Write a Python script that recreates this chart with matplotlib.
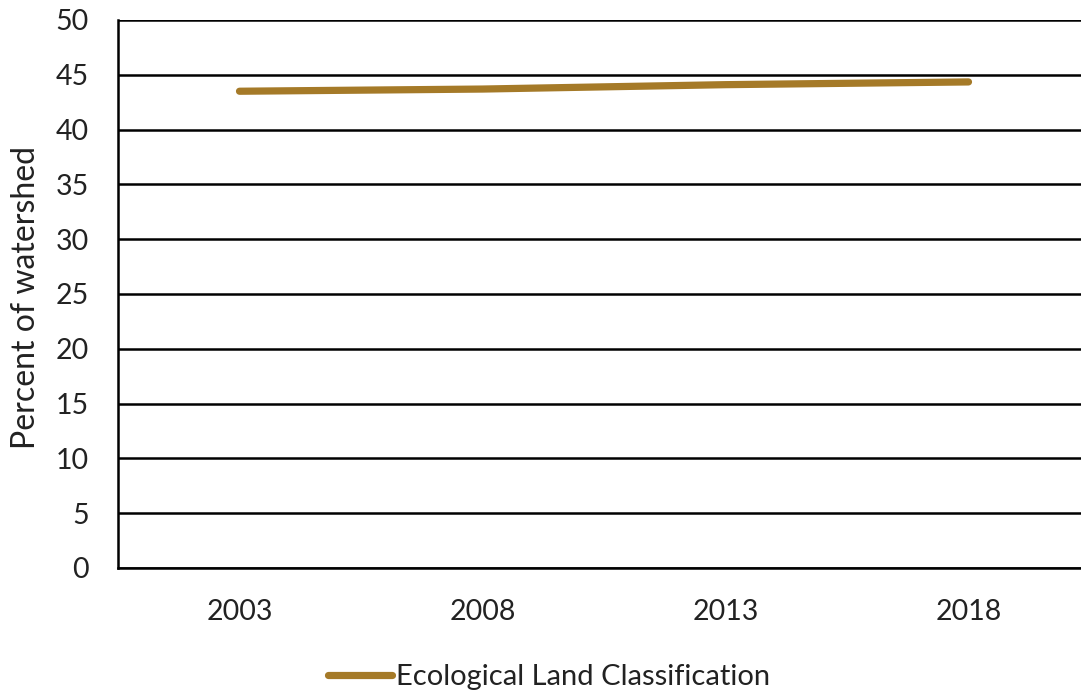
import matplotlib
matplotlib.use("Agg")
import matplotlib.pyplot as plt
from matplotlib.lines import Line2D

years = ["2003", "2008", "2013", "2018"]
values = [43.5, 43.7, 44.1, 44.35]
series_name = "Ecological Land Classification"
yticks = [0, 5, 10, 15, 20, 25, 30, 35, 40, 45, 50]

plt.rcParams['font.family'] = ['Lato', 'DejaVu Sans']
W, H = 1081, 692
fig = plt.figure(figsize=(W/100, H/100), dpi=100)
ax = fig.add_axes([118/W, 1-568/H, (1090-118)/W, (568-20)/H])

color = '#A57A28'
x = list(range(len(years)))
ax.plot(x, values, color=color, lw=5.2, solid_capstyle='round')

ax.set_xlim(-0.5, 3.5)
ax.set_ylim(0, 50)
ax.set_yticks(yticks)
ax.set_yticklabels([str(v) for v in yticks])
ax.set_xticks(x)
ax.set_xticklabels(years)
ax.grid(axis='y', color='black', lw=1.8)
ax.set_axisbelow(True)
for s in ['top', 'right']:
    ax.spines[s].set_visible(False)
ax.spines['left'].set_linewidth(1.8)
ax.spines['bottom'].set_linewidth(1.8)
ax.tick_params(axis='both', length=0, labelsize=20.5, colors='#222222')
ax.tick_params(axis='y', pad=21)
ax.tick_params(axis='x', pad=22)
fig.text(26/W, 1-297/H, "Percent of watershed", rotation=90, ha='center', va='center',
         fontsize=23, color='#222222')

handle = Line2D([0], [0], color=color, lw=5.2, solid_capstyle='round')
fig.legend([handle], [series_name], loc='center', bbox_to_anchor=(549/W, 1-677/H),
           frameon=False, fontsize=21, handlelength=2.2, handletextpad=0.15,
           labelcolor='#222222')

fig.savefig("out.png", dpi=100)
